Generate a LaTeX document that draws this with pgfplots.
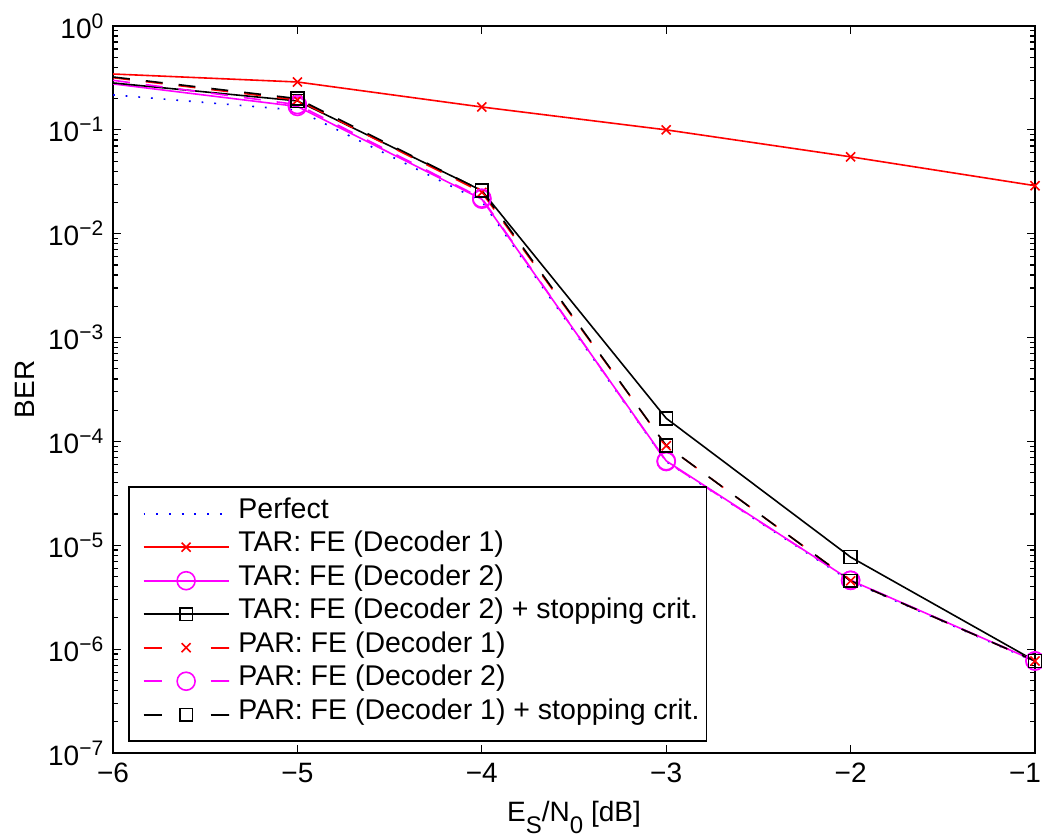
\documentclass[border=0pt]{standalone}
\usepackage{fontspec}
\setmainfont{Liberation Sans}
\usepackage{pgfplots}
\pgfplotsset{compat=1.18}

\definecolor{mred}{RGB}{255,0,0}
\definecolor{mmag}{RGB}{255,0,255}
\definecolor{mblue}{RGB}{0,0,255}

\newcommand{\sen}[1]{10\raisebox{5pt}{\fontsize{10.5}{12}\selectfont #1}}

\pgfplotsset{
  solidleg/.style={legend image code/.code={
      \path (-3.5pt,0pt);
      \draw[mark indices={2}] plot coordinates {(0pt,0pt) (21.25pt,0pt) (42.5pt,0pt)};}},
  dashleg/.style={legend image code/.code={
      \path (-3.5pt,0pt);
      \draw[mark indices={2},dash pattern=on 9pt off 24.5pt on 9pt off 0pt]
        plot coordinates {(0pt,0pt) (21.25pt,0pt) (42.5pt,0pt)};}},
  mdash/.style={dash pattern=on 8.5pt off 8pt},
}

\begin{document}
\fontsize{14}{16.8}\selectfont
\begin{tikzpicture}
\begin{axis}[
    scale only axis,
    width=461pt, height=363.5pt,
    xmin=-6, xmax=-1,
    ymode=log, ymin=1e-7, ymax=1,
    xtick={-6,-5,-4,-3,-2,-1},
    xticklabels={−6,−5,−4,−3,−2,\hspace*{-10pt}−1},
    ytick={1e-7,1e-6,1e-5,1e-4,1e-3,1e-2,1e-1,1},
    yticklabels={\sen{−7},\sen{−6},\sen{−5},\sen{−4},\sen{−3},\sen{−2},\sen{−1},\sen{0}},
    minor ytick={2e-7,3e-7,4e-7,5e-7,6e-7,7e-7,8e-7,9e-7,
                 2e-6,3e-6,4e-6,5e-6,6e-6,7e-6,8e-6,9e-6,
                 2e-5,3e-5,4e-5,5e-5,6e-5,7e-5,8e-5,9e-5,
                 2e-4,3e-4,4e-4,5e-4,6e-4,7e-4,8e-4,9e-4,
                 2e-3,3e-3,4e-3,5e-3,6e-3,7e-3,8e-3,9e-3,
                 2e-2,3e-2,4e-2,5e-2,6e-2,7e-2,8e-2,9e-2,
                 2e-1,3e-1,4e-1,5e-1,6e-1,7e-1,8e-1,9e-1},
    major tick length=4pt, minor tick length=2.5pt,
    every tick/.style={black, line width=0.6pt},
    axis line style={line width=0.8pt},
    xlabel={E\raisebox{-6pt}{\fontsize{12}{14}\selectfont S}/N\raisebox{-6pt}{\fontsize{12}{14}\selectfont 0} [dB]},
    ylabel={BER},
    xlabel style={at={(axis description cs:0.5,-0.0949)}, anchor=base},
    ylabel style={at={(axis description cs:-0.0954,0.5)}, anchor=center},
    legend style={at={(axis description cs:0.0163,0.0151)}, anchor=south west,
        draw=black, line width=0.8pt, fill=white,
        inner xsep=3.5pt, inner ysep=5pt,
        font=\fontsize{14.25}{17}\selectfont,
        nodes={inner sep=0pt, text height=10.4pt, text depth=6.1pt},
        row sep=0.25pt, column sep=4.5pt},
    legend cell align=left,
]

\addplot[mblue, line width=0.8pt, dash pattern=on 0.9pt off 5.45pt,
    legend image code/.code={\path (-3.5pt,0pt); \draw[dash pattern=on 0.9pt off 5.45pt] (0pt,0pt) -- (42.5pt,0pt);}]
coordinates {(-6,0.217) (-5,0.155) (-4,0.0205) (-3,6.4e-5) (-2,4.5e-6) (-1,7.6e-7)};
\addlegendentry{Perfect}

\addplot[mred, line width=0.8pt, mark=x, mark size=3.2pt, mark indices={2,3,4,5,6}, solidleg]
coordinates {(-6,0.345) (-5,0.289) (-4,0.166) (-3,0.1) (-2,0.055) (-1,0.029)};
\addlegendentry{TAR: FE (Decoder 1)}

\addplot[mmag, line width=0.8pt, mark=o, mark size=4.5pt, mark indices={2,3,4,5,6}, solidleg]
coordinates {(-6,0.277) (-5,0.168) (-4,0.0215) (-3,6.5e-5) (-2,4.6e-6) (-1,7.7e-7)};
\addlegendentry{TAR: FE (Decoder 2)}

\addplot[black, line width=0.8pt, mark=square, mark size=3.2pt, mark indices={2,3,4,5,6}, solidleg]
coordinates {(-6,0.283) (-5,0.19) (-4,0.026) (-3,1.67e-4) (-2,7.7e-6) (-1,7.7e-7)};
\addlegendentry{TAR: FE (Decoder 2) + stopping crit.}

\addplot[mred, line width=0.8pt, mdash, mark=x, mark size=3.2pt, mark options={solid},
    mark indices={2,3,4,5,6}, dashleg]
coordinates {(-6,0.318) (-5,0.194) (-4,0.025) (-3,9.1e-5) (-2,4.55e-6) (-1,7.7e-7)};
\addlegendentry{PAR: FE (Decoder 1)}

\addplot[mmag, line width=0.8pt, mdash, mark=o, mark size=4.5pt, mark options={solid},
    mark indices={2,3,4,5,6}, dashleg]
coordinates {(-6,0.30) (-5,0.175) (-4,0.022) (-3,6.4e-5) (-2,4.6e-6) (-1,7.7e-7)};
\addlegendentry{PAR: FE (Decoder 2)}

\addplot[black, line width=0.8pt, mdash, mark=square, mark size=3.2pt, mark options={solid},
    mark indices={2,3,4,5,6}, dashleg]
coordinates {(-6,0.323) (-5,0.2) (-4,0.026) (-3,9.1e-5) (-2,4.55e-6) (-1,7.7e-7)};
\addlegendentry{PAR: FE (Decoder 1) + stopping crit.}

\end{axis}
\pgfresetboundingbox
\path (-56.5pt,-43pt) rectangle (464.5pt,376.5pt);
\end{tikzpicture}
\end{document}
